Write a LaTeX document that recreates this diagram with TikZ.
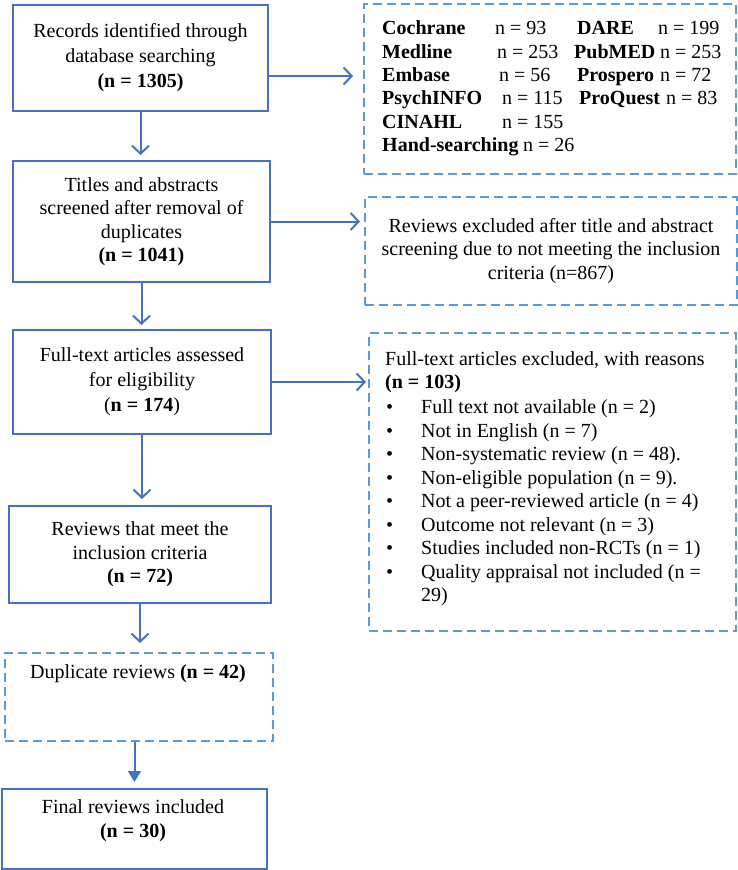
\documentclass[tikz,border=0pt]{standalone}
\usepackage{fontspec}
\setmainfont{Liberation Serif}
\usetikzlibrary{arrows.meta,calc}
\definecolor{solidblue}{HTML}{4472C4}
\definecolor{dashblue}{HTML}{5B9BD5}
\tikzset{
  solidbox/.style={draw=solidblue, line width=2pt, anchor=north west, inner sep=0pt, align=center},
  dashbox/.style={draw=dashblue, line width=2pt, dash pattern=on 9pt off 5pt, anchor=north west, inner sep=0pt, align=center},
  arr/.style={draw=solidblue, line width=2pt, -{Straight Barb[length=8pt,width=17pt]}},
  farr/.style={draw=solidblue, line width=2pt, -{Triangle[length=11pt,width=13pt]}},
  txt/.style={inner sep=0pt, anchor=base west},
  ctxt/.style={inner sep=0pt, anchor=base, align=center},
}
\begin{document}
\begin{tikzpicture}[x=1pt,y=-1pt, font=\fontsize{20}{23.5}\selectfont]
\useasboundingbox (0,0) rectangle (738,870);

% left column
\node[solidbox, minimum width=255, minimum height=106, font=\fontsize{20}{25}\selectfont] (b1) at (12,4)
  {Records identified through\\database searching\\\textbf{(n = 1305)}};
\node[solidbox, minimum width=257, minimum height=121] (b2) at (12,160)
  {Titles and abstracts\\screened after removal of\\duplicates\\\textbf{(n = 1041)}};
\node[solidbox, minimum width=258, minimum height=104, font=\fontsize{20}{25}\selectfont] (b3) at (12,329)
  {Full-text articles assessed\\for eligibility\\(\textbf{n = 174})};
\node[solidbox, minimum width=262, minimum height=97] (b4) at (8,505)
  {Reviews that meet the\\inclusion criteria\\\textbf{(n = 72)}};
\node[dashbox, minimum width=268, minimum height=88] (dup) at (4,652) {};
\node[ctxt] (duptxt) at (138,678) {Duplicate reviews \textbf{(n = 42)}};
\node[solidbox, minimum width=265, minimum height=80] (fin) at (1,788) {};
\node[ctxt] (fint1) at (133,813) {Final reviews included};
\node[ctxt] (fint2) at (133,837) {\textbf{(n = 30)}};

% right column
\node[dashbox, minimum width=372, minimum height=170] (tr) at (363,3) {};
\node[txt] (r1a) at (382,34) {\textbf{Cochrane}};
\node[txt] (r1b) at (495,34) {n = 93};
\node[txt] (r1c) at (577,34) {\textbf{DARE}};
\node[txt] (r1d) at (658,34) {n = 199};
\node[txt] (r2a) at (382,58) {\textbf{Medline}};
\node[txt] (r2b) at (497,58) {n = 253};
\node[txt] (r2c) at (574,58) {\textbf{PubMED}};
\node[txt] (r2d) at (660,58) {n = 253};
\node[txt] (r3a) at (382,81) {\textbf{Embase}};
\node[txt] (r3b) at (499,81) {n = 56};
\node[txt] (r3c) at (577,81) {\textbf{Prospero}};
\node[txt] (r3d) at (660,81) {n = 72};
\node[txt] (r4a) at (382,104) {\textbf{PsychINFO}};
\node[txt] (r4b) at (502,104) {n = 115};
\node[txt] (r4c) at (579,104) {\textbf{ProQuest}};
\node[txt] (r4d) at (666,104) {n = 83};
\node[txt] (r5a) at (382,128) {\textbf{CINAHL}};
\node[txt] (r5b) at (502,128) {n = 155};
\node[txt] (r6a) at (382,151) {\textbf{Hand-searching}};
\node[txt] (r6b) at (523,151) {n = 26};

\node[dashbox, minimum width=372, minimum height=108] (ex1) at (364,196)
  {Reviews excluded after title and abstract\\screening due to not meeting the inclusion\\criteria (n=867)};

\node[dashbox, minimum width=367, minimum height=298] (ex2) at (368,332) {};
\node[txt] (e0) at (385,365) {Full-text articles excluded, with reasons};
\node[txt] (e00) at (385,388) {\textbf{(n = 103)}};
\foreach \i/\y/\t in {1/413/{Full text not available (n = 2)},
                      2/437/{Not in English (n = 7)},
                      3/460/{Non-systematic review (n = 48).},
                      4/484/{Non-eligible population (n = 9).},
                      5/507/{Not a peer-reviewed article (n = 4)},
                      6/531/{Outcome not relevant (n = 3)},
                      7/554/{Studies included non-RCTs (n = 1)},
                      8/578/{Quality appraisal not included (n =}} {
  \node[txt] (bul\i) at (386,\y) {•};
  \node[txt] (it\i) at (421,\y) {\t};
}
\node[txt] (it9) at (421,601) {29)};

% connectors
\draw[arr, shorten >=5pt] (b1.south) -- (b1.south |- b2.north);
\draw[arr, shorten >=4pt] (b2.south) -- (b2.south |- b3.north);
\draw[arr, shorten >=6pt] (b3.south) -- (b3.south |- b4.north);
\draw[arr, shorten >=9pt] (b4.south) -- (b4.south |- dup.north);
\draw[farr, shorten >=6pt] (fin.north |- dup.south) -- (fin.north);
\draw[arr, shorten >=10pt] ($(b1.east)+(0,18)$) -- ($(tr.west |- b1.east)+(0,18)$);
\draw[arr, shorten >=4pt] (b2.east) -- (ex1.west |- b2.east);
\draw[arr, shorten >=2pt] (b3.east) -- (ex2.west |- b3.east);
\end{tikzpicture}
\end{document}
